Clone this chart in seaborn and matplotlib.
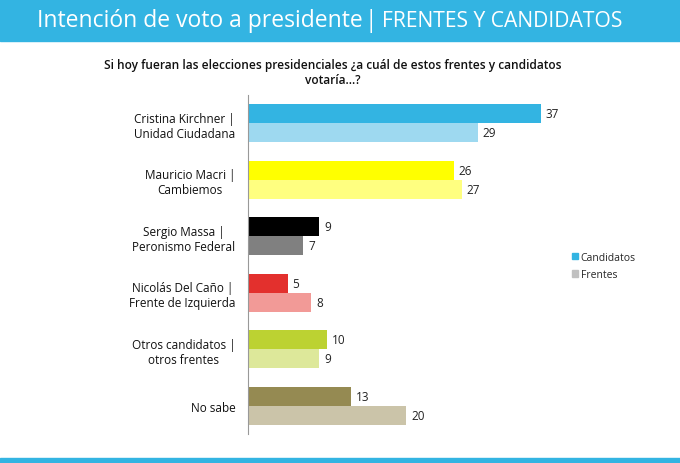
import matplotlib
matplotlib.use("Agg")
import pandas as pd
import seaborn as sns
import matplotlib.pyplot as plt
from matplotlib.patches import Rectangle, Patch

# datos
categorias = ["Cristina Kirchner |\nUnidad Ciudadana", "Mauricio Macri |\nCambiemos",
              "Sergio Massa |\nPeronismo Federal", "Nicolás Del Caño |\nFrente de Izquierda",
              "Otros candidatos |\notros frentes", "No sabe"]
candidatos = [37, 26, 9, 5, 10, 13]
frentes = [29, 27, 7, 8, 9, 20]
series = ["Candidatos", "Frentes"]

col_cand = ["#33b4e2", "#ffff00", "#000000", "#e3302d", "#bcd232", "#958a52"]
col_fren = ["#9ed9f0", "#ffff80", "#808080", "#f29a97", "#dde89a", "#cbc4a9"]

df = pd.DataFrame({
    "cat": categorias * 2,
    "valor": candidatos + frentes,
    "serie": [series[0]] * 6 + [series[1]] * 6,
})

sns.set_style("white")
plt.rcParams["font.family"] = ["Open Sans", "DejaVu Sans"]

W, H = 680, 464
fig = plt.figure(figsize=(W / 100, H / 100), dpi=100)

# banda superior y linea inferior
fig.patches.append(Rectangle((0, 1 - 42 / H), 1, 42 / H, transform=fig.transFigure,
                             color="#33b4e2", zorder=0))
fig.patches.append(Rectangle((0, 0), 1, 5 / H, transform=fig.transFigure,
                             color="#33b4e2", zorder=0))
fig.text(37 / W, 1 - 21 / H, "Intención de voto a presidente", color="white",
         fontsize=16.5, va="center", ha="left")
fig.text(365 / W, 1 - 21 / H, "|", color="white",
         fontsize=16.5, va="center", ha="left")
fig.text(382 / W, 1 - 21.5 / H, "FRENTES Y CANDIDATOS", color="white",
         fontsize=15.2, va="center", ha="left")
fig.text(333 / W, 1 - 73 / H,
         "Si hoy fueran las elecciones presidenciales ¿a cuál de estos frentes y candidatos\nvotaría...?",
         ha="center", va="center", fontsize=8.6, color="#111111", fontweight="semibold",
         linespacing=1.25)

ax = fig.add_axes([248 / W, 1 - 435 / H, 396 / W, 339 / H])
sns.barplot(data=df, y="cat", x="valor", hue="serie", orient="h", width=0.67,
            dodge=True, ax=ax, legend=False, saturation=1)

colores = col_cand + col_fren
for p, c in zip(ax.patches[:12], colores):
    p.set_facecolor(c)
    p.set_edgecolor("none")
    ax.text(p.get_width() + 0.6, p.get_y() + p.get_height() / 2, f"{int(p.get_width())}",
            va="center", ha="left", fontsize=8.5, color="#222222")

ax.set_xlim(0, 50)
ax.set_ylim(5.5, -0.5)
ax.set_xlabel("")
ax.set_ylabel("")
ax.set_xticks([])
ax.tick_params(axis="y", which="major", length=0, pad=9, labelsize=8.5)
ax.set_yticks([i - 0.5 for i in range(7)], minor=True)
ax.tick_params(axis="y", which="minor", length=4, color="#999999", direction="out")
for lbl in ax.get_yticklabels():
    lbl.set_multialignment("center")
    lbl.set_color("#111111")
for s in ["top", "right", "bottom"]:
    ax.spines[s].set_visible(False)
ax.spines["left"].set_color("#999999")
ax.spines["left"].set_linewidth(0.8)

handles = [Patch(color="#33b4e2", label="Candidatos"), Patch(color="#c0c0c0", label="Frentes")]
fig.legend(handles=handles, loc="center left", bbox_to_anchor=(563 / W, 1 - 267 / H),
           frameon=False, fontsize=7.5, handlelength=0.55, handleheight=0.55,
           handletextpad=0.25, labelspacing=0.6)

fig.savefig("out.png", dpi=100)
